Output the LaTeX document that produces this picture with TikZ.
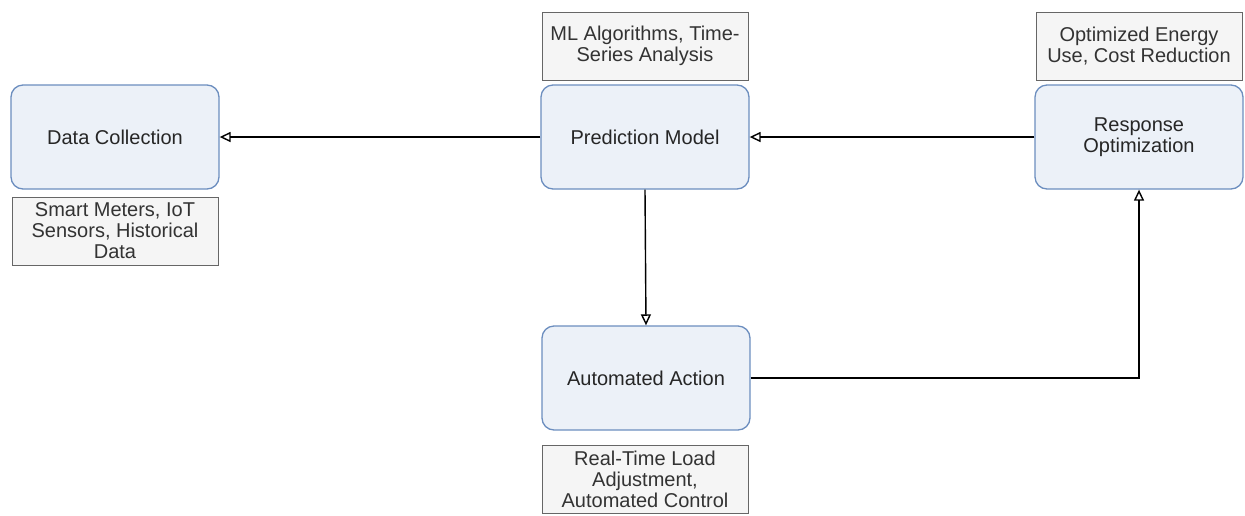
\documentclass[tikz,border=0pt]{standalone}
\usepackage{fontspec}
\setmainfont{Liberation Sans}
\usetikzlibrary{arrows.meta,positioning}
\definecolor{boxblue}{RGB}{108,142,191}
\definecolor{boxfill}{RGB}{236,241,248}
\definecolor{notegray}{RGB}{102,102,102}
\definecolor{notefill}{RGB}{245,245,245}
\definecolor{notetext}{RGB}{51,51,51}

\begin{document}
\begin{tikzpicture}[x=1pt,y=-1pt,
    stage/.style={draw=boxblue,fill=boxfill,rounded corners=12pt,line width=1.3pt,
      minimum width=208pt,minimum height=104pt,align=center,text=black!85},
    note/.style={draw=notegray,fill=notefill,line width=0.9pt,minimum width=206pt,
      minimum height=68pt,align=center,text=notetext,inner sep=1pt},
    flow/.style={->,>={Triangle[open,length=11pt,width=10pt]},line width=1.4pt}]
    \useasboundingbox (0,0) rectangle (1245,515);
    {\fontsize{20}{21}\selectfont
      \node(dc) at (115,137) [stage] {Data Collection};
      \node(dcn) at (115,231) [note] {Smart Meters, IoT\\Sensors, Historical\\Data};

      \node(pm) at (645,137) [stage] {Prediction Model};
      \node(pmn) at (645,46) [note] {ML Algorithms, Time-\\Series Analysis};

      \node(ro) at (1139,137) [stage] {Response\\Optimization};
      \node(ron) at (1139,46) [note] {Optimized Energy\\Use, Cost Reduction};

      \node(aa) at (646,378) [stage] {Automated Action};
      \node(aan) at (645,479) [note] {Real-Time Load\\Adjustment,\\Automated Control};


      \draw (pm.west) edge[flow] (dc.east);
      \draw (ro.west) edge[flow] (pm.east);
      \draw (pm.south) edge[flow] (aa.north);
      \draw[flow] (aa.east) -| (ro.south);
    }
\end{tikzpicture}
\end{document}
